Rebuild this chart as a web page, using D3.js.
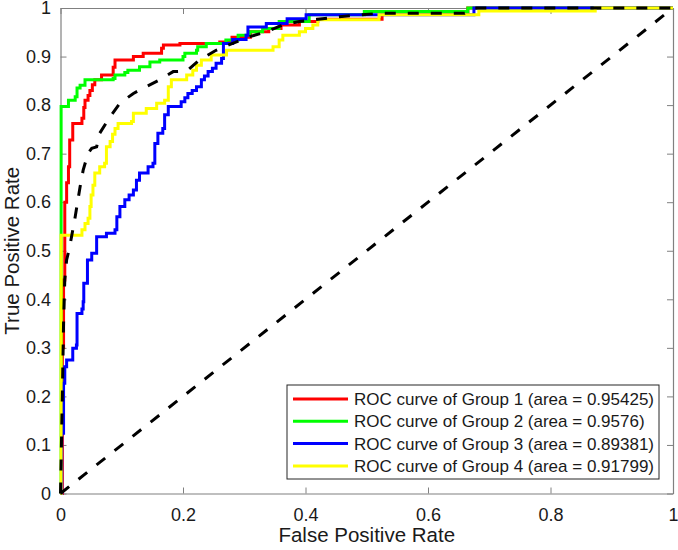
<!DOCTYPE html>
<html>
<head>
<meta charset="utf-8">
<script src="https://cdn.jsdelivr.net/npm/d3@7"></script>
<style>
  body { margin: 0; background: #fff; }
  #vis { width: 678px; height: 550px; }
  text { font-family: "Liberation Sans", Arial, sans-serif; fill: #1a1a1a; }
</style>
</head>
<body>
<div id="vis"></div>
<script>
// ROC curves, [fpr, tpr] where tpr jumps at fpr (step after)
const group1 = [[0,0],[0.003,0.3],[0.005,0.44],[0.007,0.6],[0.01,0.64],[0.013,0.673],[0.015,0.728],[0.02,0.762],[0.035,0.773],[0.038,0.795],[0.04,0.81],[0.045,0.82],[0.048,0.83],[0.052,0.842],[0.056,0.852],[0.067,0.862],[0.086,0.878],[0.089,0.893],[0.119,0.9],[0.135,0.907],[0.165,0.917],[0.168,0.924],[0.195,0.927],[0.26,0.93],[0.28,0.94],[0.31,0.951],[0.34,0.958],[0.36,0.965],[0.39,0.972],[0.42,0.977],[0.525,0.99],[0.665,1],[1,1]];
const group2 = [[0,0],[0.001,0.797],[0.013,0.81],[0.024,0.817],[0.027,0.835],[0.032,0.841],[0.04,0.852],[0.086,0.855],[0.089,0.862],[0.105,0.867],[0.11,0.872],[0.129,0.879],[0.146,0.889],[0.162,0.893],[0.2,0.9],[0.203,0.907],[0.222,0.913],[0.224,0.92],[0.238,0.927],[0.27,0.934],[0.29,0.944],[0.309,0.951],[0.33,0.958],[0.357,0.972],[0.406,0.986],[0.496,0.993],[0.665,1],[1,1]];
const group3 = [[0,0],[0.002,0.124],[0.005,0.227],[0.007,0.261],[0.01,0.275],[0.02,0.299],[0.026,0.306],[0.027,0.371],[0.035,0.38],[0.037,0.395],[0.038,0.433],[0.044,0.481],[0.051,0.495],[0.059,0.529],[0.075,0.536],[0.089,0.543],[0.092,0.57],[0.097,0.591],[0.105,0.605],[0.112,0.615],[0.119,0.625],[0.124,0.645],[0.129,0.66],[0.143,0.673],[0.151,0.68],[0.154,0.721],[0.159,0.742],[0.167,0.752],[0.17,0.78],[0.176,0.797],[0.197,0.807],[0.203,0.815],[0.208,0.824],[0.215,0.83],[0.222,0.838],[0.23,0.852],[0.235,0.86],[0.241,0.869],[0.248,0.876],[0.254,0.886],[0.263,0.896],[0.266,0.927],[0.281,0.935],[0.303,0.944],[0.306,0.961],[0.336,0.968],[0.37,0.978],[0.401,0.986],[0.675,1],[1,1]];
const group4 = [[0,0],[0.001,0.532],[0.035,0.543],[0.04,0.556],[0.045,0.567],[0.048,0.591],[0.05,0.615],[0.053,0.635],[0.056,0.66],[0.064,0.673],[0.072,0.68],[0.075,0.714],[0.081,0.725],[0.085,0.74],[0.089,0.752],[0.094,0.762],[0.116,0.766],[0.119,0.783],[0.14,0.793],[0.157,0.804],[0.17,0.81],[0.176,0.838],[0.181,0.852],[0.206,0.862],[0.216,0.872],[0.222,0.882],[0.23,0.893],[0.246,0.903],[0.271,0.913],[0.347,0.92],[0.357,0.934],[0.363,0.944],[0.39,0.951],[0.4,0.958],[0.412,0.965],[0.42,0.976],[0.52,0.986],[0.683,0.994],[0.873,1],[1,1]];
// mean curve (black dashed)
const meanCurve = [[0,0],[0.003,0.2],[0.005,0.35],[0.007,0.44],[0.01,0.481],[0.015,0.508],[0.024,0.57],[0.032,0.632],[0.037,0.666],[0.045,0.701],[0.051,0.711],[0.059,0.714],[0.064,0.742],[0.081,0.776],[0.097,0.804],[0.119,0.824],[0.14,0.838],[0.162,0.852],[0.184,0.869],[0.206,0.87],[0.227,0.893],[0.254,0.913],[0.281,0.927],[0.309,0.941],[0.336,0.951],[0.363,0.965],[0.39,0.972],[0.455,0.982],[0.52,0.989],[0.66,0.989],[0.675,1],[1,1]];
const chanceLine = [[0,0],[1,1]];

const legendLabels = [
  "ROC curve of Group 1 (area = 0.95425)",
  "ROC curve of Group 2 (area = 0.9576)",
  "ROC curve of Group 3 (area = 0.89381)",
  "ROC curve of Group 4 (area = 0.91799)"
];
const groupColors = ["#ff0000", "#00ff00", "#0000ff", "#ffff00"];
const xTicks = [0, 0.2, 0.4, 0.6, 0.8, 1];
const yTicks = [0, 0.1, 0.2, 0.3, 0.4, 0.5, 0.6, 0.7, 0.8, 0.9, 1];

var margin = { top: 8, right: 5, bottom: 56.5, left: 60.5 },
  width = 678 - margin.left - margin.right,
  height = 550 - margin.top - margin.bottom;

var svg = d3.select("#vis")
  .append("svg")
  .attr("width", 678)
  .attr("height", 550)
  .append("g")
  .attr("transform", "translate(" + margin.left + "," + margin.top + ")");

var x = d3.scaleLinear().domain([0, 1]).range([0, width]);
var y = d3.scaleLinear().domain([0, 1]).range([height, 0]);

const axisColor = "#808080";
const tickLen = 6;

// axes with inward ticks, all four sides
function styleAxis(g) {
  g.select(".domain").attr("stroke", axisColor).attr("stroke-width", 1.2);
  g.selectAll(".tick line").attr("stroke", axisColor);
  g.selectAll(".tick text").style("font-size", "18px").attr("fill", "#1a1a1a");
}

svg.append("g")
  .attr("transform", "translate(0," + height + ")")
  .call(d3.axisBottom(x).tickValues(xTicks).tickFormat(d3.format("~g")).tickSizeInner(-tickLen).tickSizeOuter(0).tickPadding(15))
  .call(styleAxis);
svg.append("g")
  .call(d3.axisLeft(y).tickValues(yTicks).tickFormat(d3.format("~g")).tickSizeInner(-tickLen).tickSizeOuter(0).tickPadding(9.5))
  .call(styleAxis);
svg.append("g")
  .call(d3.axisTop(x).tickValues(xTicks).tickFormat("").tickSizeInner(-tickLen).tickSizeOuter(0))
  .call(styleAxis);
svg.append("g")
  .attr("transform", "translate(" + width + ",0)")
  .call(d3.axisRight(y).tickValues(yTicks).tickFormat("").tickSizeInner(-tickLen).tickSizeOuter(0))
  .call(styleAxis);

var stepLine = d3.line()
  .x(d => x(d[0]))
  .y(d => y(d[1]))
  .curve(d3.curveStepAfter);
var plainLine = d3.line()
  .x(d => x(d[0]))
  .y(d => y(d[1]));

const groups = [group1, group2, group3, group4];
groups.forEach(function (g, i) {
  svg.append("path")
    .datum(g)
    .attr("fill", "none")
    .attr("stroke", groupColors[i])
    .attr("stroke-width", 3)
    .attr("d", stepLine);
});

svg.append("path")
  .datum(meanCurve)
  .attr("fill", "none")
  .attr("stroke", "#000")
  .attr("stroke-width", 3)
  .attr("stroke-dasharray", "11,12")
  .attr("d", plainLine);

svg.append("path")
  .datum(chanceLine)
  .attr("fill", "none")
  .attr("stroke", "#000")
  .attr("stroke-width", 3)
  .attr("stroke-dasharray", "11,12")
  .attr("d", plainLine);

// legend
var legend = svg.append("g")
  .attr("transform", "translate(" + (287 - margin.left) + "," + (385 - margin.top) + ")");
legend.append("rect")
  .attr("width", 372)
  .attr("height", 94)
  .attr("fill", "#fff")
  .attr("stroke", "#262626")
  .attr("stroke-width", 1);
legendLabels.forEach(function (label, i) {
  var row = legend.append("g").attr("transform", "translate(0," + (14 + i * 22.3) + ")");
  row.append("line")
    .attr("x1", 6).attr("x2", 61)
    .attr("stroke", groupColors[i])
    .attr("stroke-width", 3);
  row.append("text")
    .attr("x", 67)
    .attr("dy", "0.35em")
    .style("font-size", "17px")
    .text(label);
});

// axis labels
svg.append("text")
  .attr("x", width / 2)
  .attr("y", height + 48.5)
  .attr("text-anchor", "middle")
  .style("font-size", "20.5px")
  .text("False Positive Rate");
svg.append("text")
  .attr("transform", "translate(" + (-42) + "," + (height / 2) + ") rotate(-90)")
  .attr("text-anchor", "middle")
  .style("font-size", "20.5px")
  .text("True Positive Rate");
</script>
</body>
</html>
